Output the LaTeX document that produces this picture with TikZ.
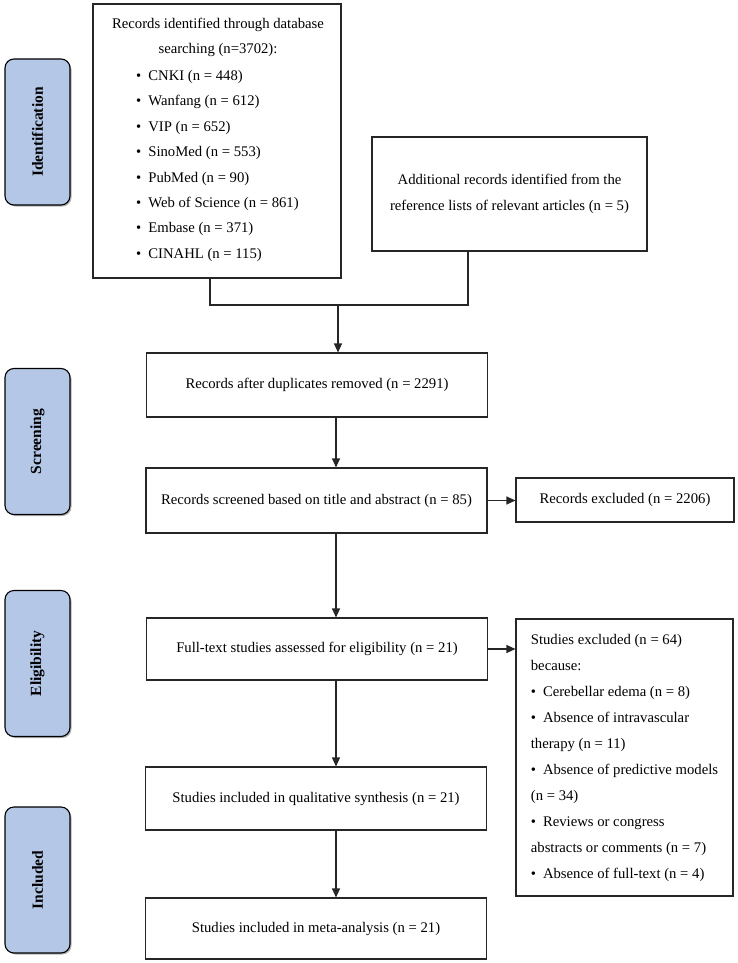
\documentclass[tikz,border=0pt]{standalone}
\usepackage{fontspec}
\setmainfont{Liberation Serif}
\usepackage{graphicx}
\usetikzlibrary{arrows.meta,shadows}

\definecolor{stageblue}{RGB}{180,199,231}

\begin{document}
\begin{tikzpicture}[
    x=1pt, y=-1pt,
    box/.style={
        draw=black!85,
        line width=1.1pt,
        minimum width=341pt,
        inner sep=0pt,
        align=center,
        font=\fontsize{14.7}{25.5}\selectfont
    },
    stage/.style={
        draw=black,
        line width=1.1pt,
        rounded corners=9pt,
        fill=stageblue,
        minimum width=65pt,
        minimum height=146pt,
        inner sep=0pt,
        drop shadow={shadow xshift=1.5pt, shadow yshift=-1.5pt, fill=black!60},
        font=\fontsize{15.5}{18}\selectfont\bfseries
    },
    item/.style={
        anchor=west,
        inner sep=0pt,
        font=\fontsize{14.7}{25.5}\selectfont
    },
    link/.style={
        draw=black!85,
        line width=1.1pt
    },
    arrow/.style={
        link,
        -{Triangle[length=9pt,width=8pt]}
    }
]
    \useasboundingbox (0,0) rectangle (738,963);

    % stages down the left side
    \foreach \name/\y/\txt in {
        ident/132/Identification,
        screen/441.5/Screening,
        elig/663.5/Eligibility,
        incl/880/Included%
    } {
        \node[stage] (\name) at (37.5,\y) {\rotatebox{90}{\txt}};
    }

    % database search
    \node[box, minimum width=248pt, minimum height=274pt] (records) at (217,141) {};
    \node[inner sep=0pt, align=center, font=\fontsize{14.7}{25.5}\selectfont] (dbhead) at (218,37.5)
        {Records identified through database\\searching (n=3702):};
    \foreach \db/\n [count=\i] in {
        CNKI/448,
        Wanfang/612,
        VIP/652,
        SinoMed/553,
        PubMed/90,
        Web of Science/861,
        Embase/371,
        CINAHL/115%
    } {
        \node[item] (db\i) at (136,51.6+25.4*\i) {\textbullet\hspace{7pt}\db\ (n = \n)};
    }

    \node[box, minimum width=275pt, minimum height=114pt] (additional) at (509.5,194)
        {Additional records identified from the\\reference lists of relevant articles (n = 5)};

    % main flow
    \node[box, minimum height=64pt] (dedup) at (317,385) {Records after duplicates removed (n = 2291)};
    \node[box, minimum height=65pt] (screened) at (316.5,500.5) {Records screened based on title and abstract (n = 85)};
    \node[box, minimum height=62pt] (fulltext) at (317,649) {Full-text studies assessed for eligibility (n = 21)};
    \node[box, minimum height=63pt] (qualitative) at (316,798.5) {Studies included in qualitative synthesis (n = 21)};
    \node[box, minimum height=61pt] (meta) at (316,928.5) {Studies included in meta-analysis (n = 21)};

    % exclusions
    \node[box, minimum width=218pt, minimum height=44pt] (excluded) at (625,500) {Records excluded (n = 2206)};
    \node[box, minimum width=217pt, minimum height=277pt, align=left, font=\fontsize{14.7}{26}\selectfont] (reasons) at (624.5,757.5) {%
        Studies excluded (n = 64)\\
        because:\\
        \textbullet\hspace{7pt}Cerebellar edema (n = 8)\\
        \textbullet\hspace{7pt}Absence of intravascular\\
        therapy (n = 11)\\
        \textbullet\hspace{7pt}Absence of predictive models\\
        (n = 34)\\
        \textbullet\hspace{7pt}Reviews or congress\\
        abstracts or comments (n = 7)\\
        \textbullet\hspace{7pt}Absence of full-text (n = 4)};

    % connectors
    \coordinate (join) at (338,305);
    \coordinate (spine) at (336,0);
    \draw[link] ([xshift=-7pt]records.south) |- (join) -| ([xshift=-41.5pt]additional.south);
    \draw[arrow] (join) -- (join |- dedup.north);
    \foreach \u/\v in {
        dedup/screened,
        screened/fulltext,
        fulltext/qualitative,
        qualitative/meta%
    } {
        \draw[arrow] (spine |- \u.south) -- (spine |- \v.north);
    }
    \draw[arrow] (screened.east) -- (screened.east -| excluded.west);
    \draw[arrow] (fulltext.east) -- (fulltext.east -| reasons.west);

\end{tikzpicture}
\end{document}
